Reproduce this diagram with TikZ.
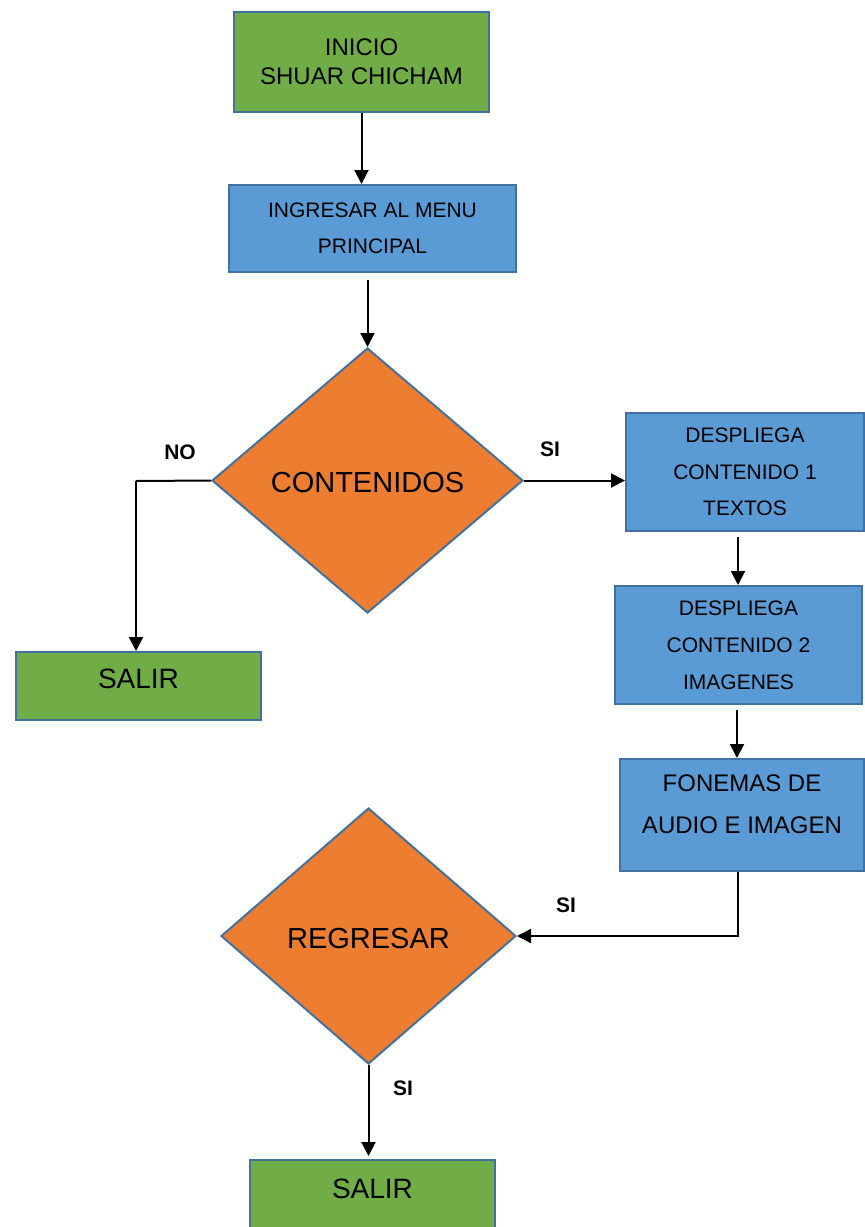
\documentclass[tikz,border=0pt]{standalone}
\usepackage{fontspec}
\setmainfont{Liberation Sans}
\usetikzlibrary{shapes.geometric,arrows.meta}
\definecolor{boxgreen}{HTML}{70AD47}
\definecolor{boxblue}{HTML}{5B9BD5}
\definecolor{boxorange}{HTML}{ED7D31}
\definecolor{edgeblue}{HTML}{41719C}
\tikzset{
  base/.style={draw=edgeblue, line width=2pt, inner sep=0pt, align=center, text=black},
  startbox/.style={base, rectangle, fill=boxgreen},
  stepbox/.style={base, rectangle, fill=boxblue},
  decision/.style={base, diamond, fill=boxorange, font=\fontsize{29}{34}\selectfont},
  arr/.style={line width=2pt, -{Triangle[length=14pt,width=14pt]}},
  tag/.style={font=\fontsize{21}{25}\selectfont\bfseries}
}
\begin{document}
\begin{tikzpicture}[x=1pt,y=-1pt]
\useasboundingbox (0,0) rectangle (865,1227);

% boxes and decisions
\node[startbox, minimum width=255, minimum height=100, font=\fontsize{24}{29}\selectfont]
  (inicio) at (361.5,62) {INICIO\\SHUAR CHICHAM};
\node[stepbox, minimum width=287, minimum height=87, font=\fontsize{21}{36}\selectfont]
  (menu) at (372.5,228.5) {INGRESAR AL MENU\\PRINCIPAL};
\node[decision, minimum width=311, minimum height=265,
  label={[font=\fontsize{29}{34}\selectfont, yshift=-2pt]center:CONTENIDOS}]
  (cont) at (367.5,480.5) {};
\node[startbox, minimum width=245, minimum height=68,
  label={[font=\fontsize{28}{34}\selectfont, yshift=7pt]center:SALIR}]
  (salir1) at (138.5,686) {};
\node[stepbox, minimum width=238, minimum height=118, font=\fontsize{21}{36.5}\selectfont]
  (desp1) at (745,472) {DESPLIEGA\\CONTENIDO 1\\TEXTOS};
\node[stepbox, minimum width=247, minimum height=118, font=\fontsize{21}{37}\selectfont]
  (desp2) at (738.5,645) {DESPLIEGA\\CONTENIDO 2\\IMAGENES};
\node[stepbox, minimum width=244, minimum height=112,
  label={[font=\fontsize{24}{42}\selectfont, align=center, yshift=11pt]center:FONEMAS DE\\AUDIO E IMAGEN}]
  (fon) at (742,815) {};
\node[decision, minimum width=295, minimum height=256,
  label={[font=\fontsize{29}{34}\selectfont, yshift=-3pt]center:REGRESAR}]
  (reg) at (368.5,936) {};
\node[startbox, minimum width=245, minimum height=70,
  label={[font=\fontsize{28}{34}\selectfont, yshift=6pt]center:SALIR}]
  (salir2) at (372.5,1195) {};

% bend points
\coordinate (nobend) at (136,481);

% connectors
\draw[arr] (inicio.south) -- (inicio.south |- menu.north);
\draw[arr, shorten <=7pt] (cont.north |- menu.south) -- (cont.north);
\draw[arr] (cont.east) -- (cont.east -| desp1.west);
\draw[line width=2pt] (cont.west) -- (nobend);
\draw[arr] (nobend) -- (nobend |- salir1.north);
\draw[arr, shorten <=5pt] (desp1.south -| 738,0) -- (desp2.north -| 738,0);
\draw[arr, shorten <=5pt] (desp2.south -| 737,0) -- (fon.north -| 737,0);
\draw[arr] (fon.south -| 738,0) |- (reg.east);
\draw[arr, shorten >=3pt] (reg.south) -- (reg.south |- salir2.north);

% branch labels
\node[tag] (lno) at (180,452) {NO};
\node[tag] (lsi1) at (550,449) {SI};
\node[tag] (lsi2) at (566,905) {SI};
\node[tag] (lsi3) at (403,1088) {SI};
\end{tikzpicture}
\end{document}
